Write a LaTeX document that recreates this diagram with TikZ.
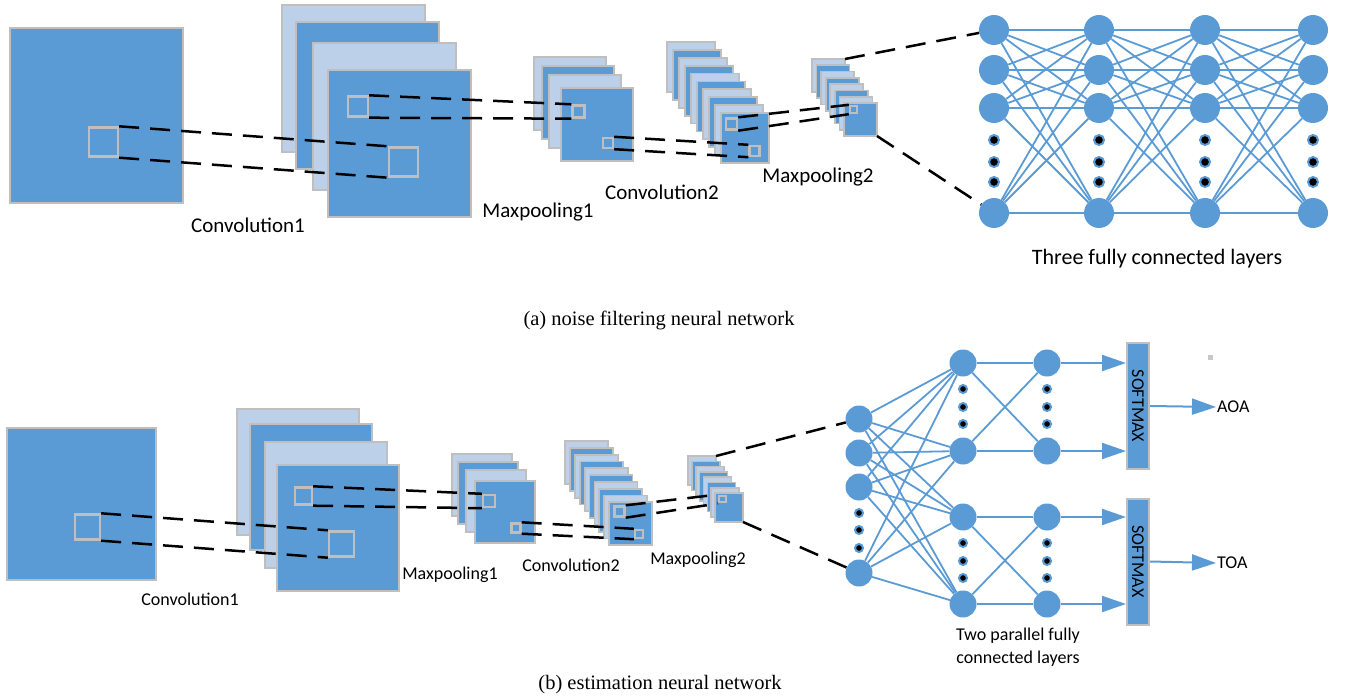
\documentclass[tikz,border=0pt]{standalone}
\usepackage{fontspec}
\usepackage{graphicx}
\setmainfont{Liberation Serif}
\newfontfamily\labelfont{Carlito}
\usetikzlibrary{arrows.meta,backgrounds}
\definecolor{planeblue}{RGB}{91,155,213}
\definecolor{planelight}{RGB}{188,208,234}
\definecolor{planegray}{RGB}{191,191,191}
\definecolor{straygray}{RGB}{200,200,200}

\begin{document}
\begin{tikzpicture}[x=1pt,y=-1pt,
    plane/.style={draw=planegray,line width=2pt,fill=planeblue},
    win/.style={draw=planegray,line width=2.4pt,inner sep=0pt,minimum size=#1},
    dashlink/.style={line width=2.5pt,dash pattern=on 20pt off 11pt},
    neuron/.style={circle,fill=planeblue,inner sep=0pt,minimum size=#1},
    vdot/.style={circle,fill=black,draw=planeblue,line width=2pt,inner sep=0pt,minimum size=#1},
    fcline/.style={draw=planeblue,line width=1.8pt},
    outarrow/.style={fcline,line width=2pt,-{Triangle[length=24pt,width=16pt]}},
    smbox/.style={draw=planegray,fill=planeblue,line width=2pt,inner sep=0pt,minimum width=22pt,minimum height=126pt},
    biglabel/.style={font=\labelfont\fontsize{21}{25}\selectfont},
    smalllabel/.style={font=\labelfont\fontsize{18}{23}\selectfont},
    caption/.style={font=\fontsize{20.5}{24}\selectfont}]
\useasboundingbox (0,0) rectangle (1348,700);

% (a) noise filtering network
\draw[plane] (10,28) rectangle ++(173,175);
\node[win=29pt] (ta0) at (103.5,142) {};

\draw[plane,fill=planelight] (282,5) rectangle ++(143,147);
\draw[plane] (296,22) rectangle ++(143,147);
\draw[plane,fill=planelight] (313,43) rectangle ++(143,147);
\draw[plane] (328,70) rectangle ++(143,147);
\node[win=20pt] (ta1) at (358,106.5) {};
\node[win=29pt] (tb1) at (403.5,162) {};

\draw[plane,fill=planelight] (534,57) rectangle ++(72,73);
\draw[plane] (542,66) rectangle ++(72,73);
\draw[plane,fill=planelight] (549,75) rectangle ++(72,73);
\draw[plane] (561,88) rectangle ++(72,73);
\node[win=12pt] (ta2) at (578.5,111.5) {};
\node[win=10pt] (tb2) at (608,143) {};

\foreach \i/\c in {0/planelight,1/planeblue,2/planelight,3/planeblue,4/planelight,5/planeblue,6/planelight,7/planeblue,8/planelight,9/planeblue}
  \draw[plane,line width=1.8pt,fill=\c] (667+6*\i,42+7.9*\i) rectangle ++(48,50);
\node[win=11pt] (ta3) at (731.5,124) {};
\node[win=10pt] (tb3) at (754.5,151) {};

\foreach \i/\c in {0/planelight,1/planeblue,2/planelight,3/planeblue,4/planelight,5/planeblue,6/planelight,7/planeblue}
  \draw[plane,line width=1.6pt,fill=\c] (812+4.57*\i,59+6.29*\i) rectangle ++(33,33);
\node[win=7pt] (ta4) at (853.5,109.5) {};
\coordinate (tp2top) at (845,59);
\coordinate (tp2bot) at (877,136);

\draw[dashlink] (ta0.north east) -- (tb1.north west);
\draw[dashlink] (ta0.south east) -- (tb1.south west);
\draw[dashlink] (ta1.north east) -- (ta2.north west);
\draw[dashlink] (ta1.south east) -- (ta2.south west);
\draw[dashlink] (tb2.north east) -- (tb3.north west);
\draw[dashlink] (tb2.south east) -- (tb3.south west);
\draw[dashlink] (ta3.north east) -- (ta4.north west);
\draw[dashlink] (ta3.south east) -- (ta4.south west);

\foreach \c/\x in {1/994,2/1099,3/1205,4/1313}{
  \foreach \r/\y in {1/30,2/70,3/108,4/213}
    \node[neuron=30pt] (t\c\r) at (\x,\y) {};
  \foreach \y [count=\k] in {140,162,182}
    \node[vdot=10pt] (td\c\k) at (\x,\y) {};
}
\begin{scope}[on background layer]
\foreach \c/\n in {1/2,2/3,3/4}
  \foreach \i in {1,...,4}
    \foreach \j in {1,...,4}
      \draw[fcline] (t\c\i) -- (t\n\j);
\end{scope}
\draw[dashlink] (tp2top) -- (t11);
\draw[dashlink] (tp2bot) -- (t14);

\node[biglabel] (lconva) at (248,225) {Convolution1};
\node[biglabel] (lpoola) at (538,212) {Maxpooling1};
\node[biglabel] (lconvb) at (662,192) {Convolution2};
\node[biglabel] (lpoolb) at (818,177) {Maxpooling2};
\node[biglabel,font=\labelfont\fontsize{22}{26}\selectfont] (lfca) at (1157,259) {Three fully connected layers};
\node[caption] (capa) at (659,320) {(a) noise filtering neural network};

% (b) estimation network
\draw[plane] (7,428) rectangle ++(149,152);
\node[win=25pt] (ba0) at (87.5,527) {};

\draw[plane,fill=planelight] (237,409) rectangle ++(122,126);
\draw[plane] (250,424) rectangle ++(122,126);
\draw[plane,fill=planelight] (265,442) rectangle ++(122,126);
\draw[plane] (277,465) rectangle ++(122,126);
\node[win=17pt] (ba1) at (303.5,496) {};
\node[win=25pt] (bb1) at (341.5,544) {};

\draw[plane,fill=planelight] (452,454) rectangle ++(60,62);
\draw[plane] (458,462) rectangle ++(60,62);
\draw[plane,fill=planelight] (466,470) rectangle ++(60,62);
\draw[plane] (475,481) rectangle ++(60,62);
\node[win=12pt] (ba2) at (489,501) {};
\node[win=9pt] (bb2) at (516,528) {};

\foreach \i/\c in {0/planelight,1/planeblue,2/planelight,3/planeblue,4/planelight,5/planeblue,6/planelight,7/planeblue,8/planelight,9/planeblue}
  \draw[plane,line width=1.8pt,fill=\c] (565+4.9*\i,441+6.8*\i) rectangle ++(43,43);
\node[win=10pt] (ba3) at (619.5,511.5) {};
\node[win=8pt] (bb3) at (639,534) {};

\foreach \i/\c in {0/planelight,1/planeblue,2/planelight,3/planeblue,4/planelight,5/planeblue,6/planelight,7/planeblue}
  \draw[plane,line width=1.6pt,fill=\c] (688+3.86*\i,456+5.3*\i) rectangle ++(28,29);
\node[win=6.5pt] (ba4) at (722.5,499) {};
\coordinate (bp2top) at (716,456);
\coordinate (bp2bot) at (743,522);

\draw[dashlink] (ba0.north east) -- (bb1.north west);
\draw[dashlink] (ba0.south east) -- (bb1.south west);
\draw[dashlink] (ba1.north east) -- (ba2.north west);
\draw[dashlink] (ba1.south east) -- (ba2.south west);
\draw[dashlink] (bb2.north east) -- (bb3.north west);
\draw[dashlink] (bb2.south east) -- (bb3.south west);
\draw[dashlink] (ba3.north east) -- (ba4.north west);
\draw[dashlink] (ba3.south east) -- (ba4.south west);

\foreach \r/\y in {1/419,2/453,3/487,4/573}
  \node[neuron=27pt] (b1\r) at (859,\y) {};
\foreach \y [count=\k] in {513,530,548}
  \node[vdot=8pt] (bd1\k) at (859,\y) {};
\foreach \c/\x in {2/963,3/1047}{
  \foreach \r/\y in {1/363,2/451,3/517,4/604}
    \node[neuron=27pt] (b\c\r) at (\x,\y) {};
  \foreach \y [count=\k] in {389,407,424,543,561,578}
    \node[vdot=8pt] (bd\c\k) at (\x,\y) {};
}
\begin{scope}[on background layer]
\foreach \i in {1,...,4}
  \foreach \j in {1,...,4}
    \draw[fcline] (b1\i) -- (b2\j);
\foreach \i/\j in {1/1,1/2,2/1,2/2,3/3,3/4,4/3,4/4}
  \draw[fcline] (b2\i) -- (b3\j);
\end{scope}
\draw[dashlink] (bp2top) -- (b11);
\draw[dashlink] (bp2bot) -- (b14);

\node[smbox] (sm1) at (1138,406) {\labelfont\fontsize{18}{20}\selectfont\rotatebox{-90}{SOFTMAX}};
\node[smbox] (sm2) at (1138,561.5) {\labelfont\fontsize{18}{20}\selectfont\rotatebox{-90}{SOFTMAX}};
\draw[outarrow] (b31) -- (b31 -| sm1.west);
\draw[outarrow] (b32) -- (b32 -| sm1.west);
\draw[outarrow] (b33) -- (b33 -| sm2.west);
\draw[outarrow] (b34) -- (b34 -| sm2.west);
\node[smalllabel,anchor=west,inner sep=1pt] (aoa) at (1216,407) {AOA};
\node[smalllabel,anchor=west,inner sep=1pt] (toa) at (1216,563) {TOA};
\draw[outarrow] (sm1.east) -- (aoa.west);
\draw[outarrow] (sm2.east) -- (toa.west);
\fill[straygray] (1208,355) rectangle ++(5,5);

\node[smalllabel] (lconvc) at (190,599) {Convolution1};
\node[smalllabel] (lpoolc) at (450,575) {Maxpooling1};
\node[smalllabel] (lconvd) at (571,565) {Convolution2};
\node[smalllabel] (lpoold) at (698,560) {Maxpooling2};
\node[smalllabel,align=center] (lfcb) at (1018,647) {Two parallel fully\\connected layers};
\node[caption] (capb) at (660,685) {(b) estimation neural network};
\end{tikzpicture}
\end{document}
